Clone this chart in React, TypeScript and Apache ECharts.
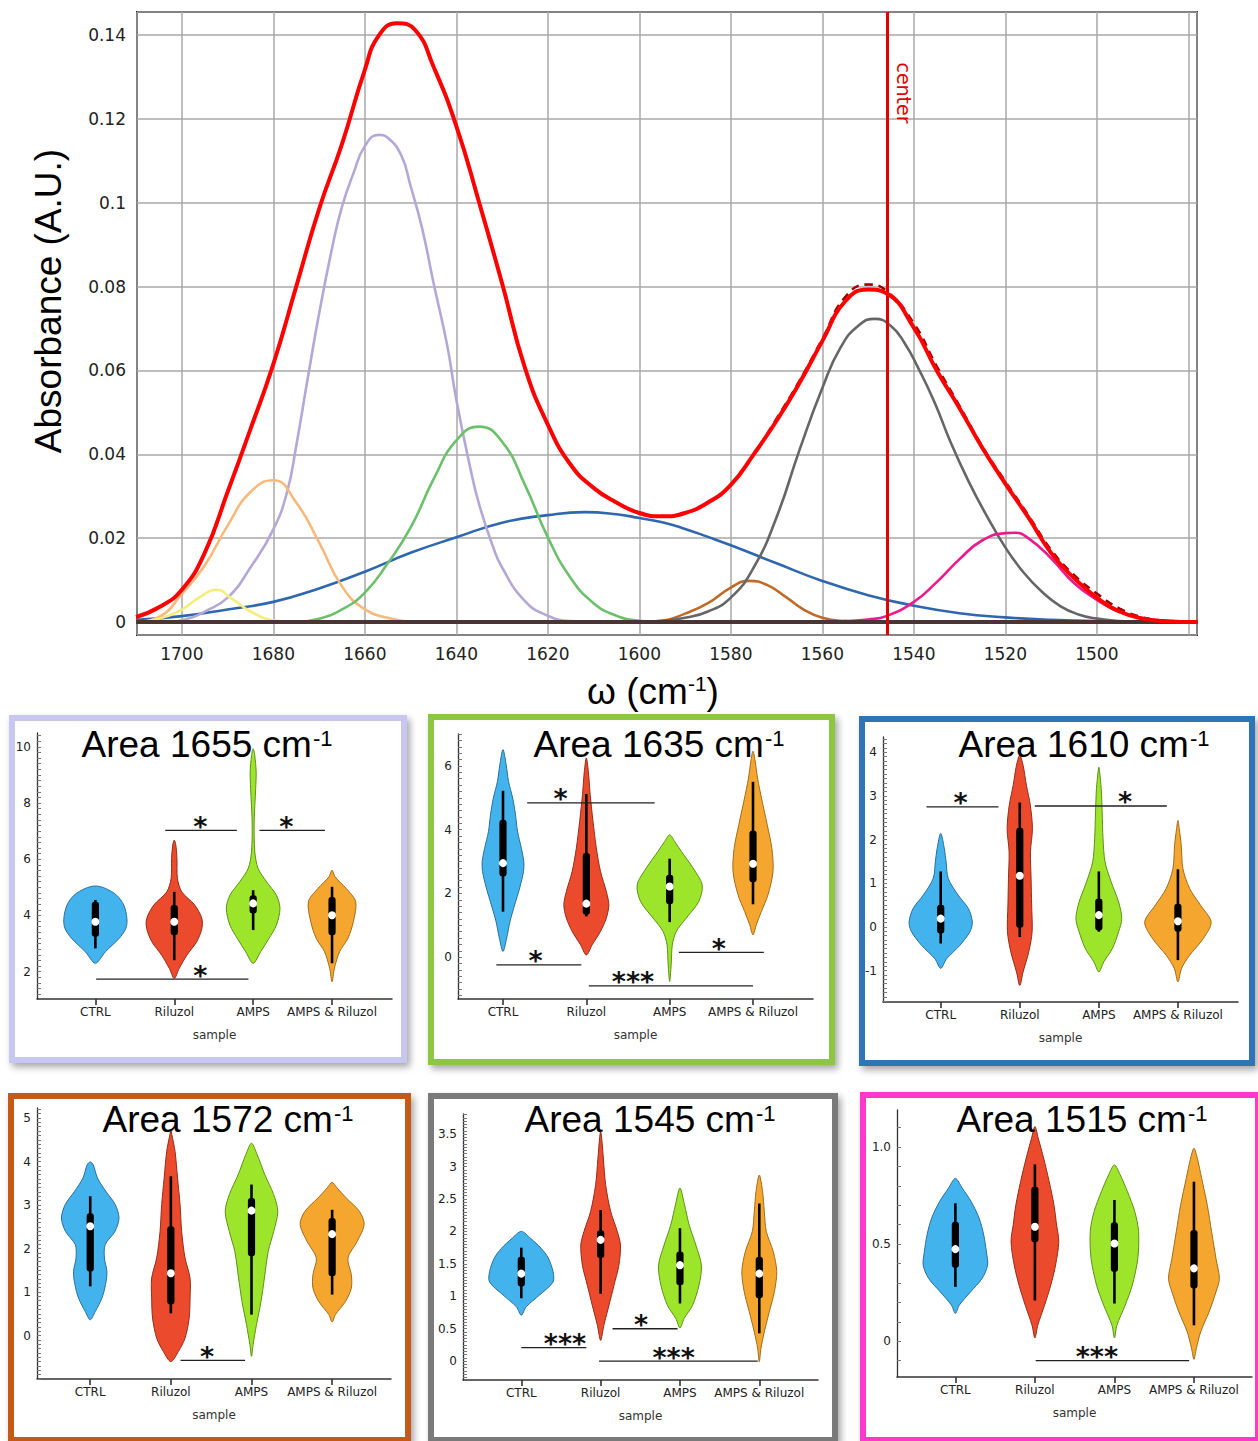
import React, { useEffect, useRef } from "react";
import * as echarts from "echarts";

// ---------------- Spectrum: [wavenumber (cm-1), absorbance] ----------------
const fitTotal = [
  [1710, 0.0012], [1705, 0.0035], [1700, 0.0077], [1695, 0.0165], [1690, 0.031], [1685, 0.046],
  [1680, 0.0615], [1675, 0.080], [1670, 0.0985], [1665, 0.114], [1660, 0.1317], [1657, 0.1398],
  [1653, 0.1428], [1649, 0.1412], [1645, 0.1325], [1640, 0.1183], [1635, 0.100], [1630, 0.0808],
  [1625, 0.0606], [1620, 0.0471], [1615, 0.0375], [1610, 0.032], [1605, 0.0285], [1600, 0.026],
  [1595, 0.0252], [1590, 0.026], [1585, 0.0285], [1580, 0.0327], [1575, 0.040], [1570, 0.048],
  [1565, 0.057], [1560, 0.067], [1555, 0.0765], [1550, 0.0793], [1546, 0.0784], [1540, 0.0702],
  [1535, 0.060], [1530, 0.051], [1525, 0.0415], [1520, 0.033], [1515, 0.025], [1510, 0.0165],
  [1505, 0.0105], [1500, 0.0058], [1495, 0.0025], [1490, 0.0008], [1485, 0.0002], [1478, 0],
];
const measured = [
  [1710, 0.0012], [1705, 0.0035], [1700, 0.0077], [1695, 0.0165], [1690, 0.031], [1685, 0.046],
  [1680, 0.0615], [1675, 0.080], [1670, 0.0985], [1665, 0.114], [1660, 0.1317], [1657, 0.1398],
  [1653, 0.1428], [1649, 0.1412], [1645, 0.1325], [1640, 0.1183], [1635, 0.100], [1630, 0.0808],
  [1625, 0.0606], [1620, 0.0471], [1615, 0.0375], [1610, 0.032], [1605, 0.0285], [1600, 0.026],
  [1595, 0.0252], [1590, 0.026], [1585, 0.0285], [1580, 0.0327], [1575, 0.040], [1570, 0.0485],
  [1565, 0.0575], [1560, 0.0675], [1555, 0.0775], [1550, 0.0805], [1546, 0.079], [1540, 0.0712],
  [1535, 0.061], [1530, 0.0515], [1525, 0.0418], [1520, 0.0335], [1515, 0.0255], [1510, 0.0172],
  [1505, 0.0112], [1500, 0.0068], [1495, 0.0032], [1490, 0.0011], [1485, 0.0003], [1478, 0],
];
const band1692 = [
  [1710, 0], [1705, 0.0008], [1700, 0.003], [1696, 0.006], [1692.5, 0.0077], [1689, 0.0055],
  [1685, 0.0025], [1680, 0.0004], [1676, 0],
];
const band1680 = [
  [1710, 0], [1705, 0.0012], [1700, 0.0067], [1695, 0.0135], [1690, 0.023], [1685, 0.031],
  [1680, 0.0338], [1675, 0.0285], [1670, 0.019], [1665, 0.0085], [1660, 0.003], [1655, 0.001], [1650, 0],
];
const band1655 = [
  [1702, 0], [1698, 0.001], [1695, 0.0025], [1690, 0.0058], [1685, 0.013], [1680, 0.0221], [1677, 0.031],
  [1675, 0.042], [1672.5, 0.058], [1670, 0.0735], [1667, 0.090], [1665, 0.099], [1662.5, 0.107],
  [1660, 0.1135], [1657, 0.1162], [1655, 0.1155], [1652, 0.1112], [1650, 0.104], [1647.5, 0.094],
  [1645, 0.081], [1642, 0.066], [1640, 0.053], [1637, 0.037], [1635, 0.028], [1632, 0.018],
  [1630, 0.013], [1625, 0.005], [1620, 0.0015], [1615, 0.0002], [1610, 0],
];
const band1635 = [
  [1675, 0], [1670, 0.0008], [1665, 0.003], [1660, 0.007], [1655, 0.014], [1650, 0.0225],
  [1645, 0.034], [1640, 0.0433], [1635, 0.0466], [1630, 0.043], [1625, 0.0327], [1620, 0.0202],
  [1615, 0.0105], [1610, 0.0045], [1605, 0.0015], [1600, 0.0003], [1595, 0],
];
const band1610 = [
  [1710, 0.0005], [1700, 0.0014], [1690, 0.003], [1680, 0.0048], [1670, 0.008], [1660, 0.012],
  [1650, 0.0165], [1640, 0.0202], [1630, 0.0237], [1620, 0.0255], [1612, 0.0262], [1605, 0.0257],
  [1600, 0.0248], [1595, 0.0238], [1590, 0.0222], [1585, 0.0203], [1580, 0.0183], [1570, 0.014],
  [1560, 0.0098], [1550, 0.0064], [1540, 0.0039], [1530, 0.0021], [1520, 0.0011],
  [1510, 0.0005], [1500, 0.0002], [1478, 0],
];
const band1575 = [
  [1600, 0], [1595, 0.0003], [1590, 0.002], [1585, 0.0045], [1580, 0.0082], [1576, 0.0098],
  [1572, 0.0088], [1568, 0.006], [1564, 0.0029], [1560, 0.001], [1555, 0.0002], [1550, 0],
];
const band1548 = [
  [1600, 0], [1595, 0.0003], [1590, 0.001], [1585, 0.0025], [1580, 0.0058], [1575, 0.013],
  [1570, 0.025], [1565, 0.041], [1560, 0.0558], [1556, 0.0655], [1552, 0.0708], [1548.5, 0.0723],
  [1545, 0.0706], [1542, 0.0665], [1539, 0.0605], [1535.5, 0.0525], [1532, 0.043], [1528, 0.0335],
  [1524, 0.0252], [1520, 0.0178], [1516, 0.0118], [1512, 0.0072], [1508, 0.0038], [1504, 0.0018], [1500, 0.0008],
  [1495, 0.0002], [1490, 0],
];
const band1518 = [
  [1560, 0], [1555, 0.0002], [1550, 0.0006], [1546, 0.0014], [1540, 0.0048], [1535, 0.0095],
  [1530, 0.015], [1525, 0.0195], [1520, 0.0212], [1518, 0.0213], [1515, 0.020], [1510, 0.0152],
  [1505, 0.0093], [1500, 0.0053], [1495, 0.0024], [1490, 0.001], [1485, 0.0003], [1478, 0],
];
const baseline = [[1710, 0], [1478, 0]];
const centerLine = 1545.8;
const spectrumXTicks = [1700, 1680, 1660, 1640, 1620, 1600, 1580, 1560, 1540, 1520, 1500];

// ---------------- Violin panels ----------------
const groups = ["CTRL", "Riluzol", "AMPS", "AMPS & Riluzol"];
// profiles: [value, half width in group units]; boxes: [whiskerLow, q1, median, q3, whiskerHigh]
// sig: [x1, x2, y, starX, label]
const v1655 = [
  [[2.30, 0], [2.71, 0.127], [3.18, 0.30], [3.54, 0.386], [3.89, 0.40], [4.37, 0.36], [4.72, 0.27], [4.96, 0.13], [5.05, 0]],
  [[1.76, 0], [2.12, 0.063], [2.59, 0.16], [3.07, 0.285], [3.54, 0.35], [3.89, 0.35], [4.37, 0.26], [4.84, 0.095], [5.32, 0.04], [6.03, 0.034], [6.5, 0.02], [6.68, 0]],
  [[2.30, 0], [2.71, 0.095], [3.18, 0.2], [3.66, 0.295], [4.25, 0.34], [4.72, 0.295], [5.2, 0.17], [5.67, 0.063], [6.26, 0.021], [7.33, 0.013], [8.51, 0.032], [9.1, 0.038], [9.7, 0.02], [9.93, 0]],
  [[1.64, 0], [2.12, 0.03], [2.71, 0.095], [3.18, 0.2], [3.78, 0.27], [4.49, 0.3], [4.96, 0.18], [5.37, 0.04], [5.61, 0]],
];
const box1655 = [[2.83, 3.24, 3.78, 4.49, 4.55], [2.41, 3.30, 3.78, 4.37, 4.84], [3.48, 4.07, 4.43, 4.72, 4.90], [2.30, 3.30, 4.01, 4.66, 5.02]];
const sig1655 = [[0.886, 1.793, 7.03, 1.33, "*"], [2.08, 2.91, 7.03, 2.42, "*"], [0.01, 1.94, 1.74, 1.33, "*"]];

const v1635 = [
  [[0.18, 0], [0.6, 0.044], [1.12, 0.084], [1.64, 0.14], [2.17, 0.2], [2.69, 0.246], [3.0, 0.25], [3.42, 0.22], [3.95, 0.174], [4.47, 0.15], [4.99, 0.116], [5.52, 0.066], [6.04, 0.038], [6.51, 0]],
  [[0.07, 0], [0.39, 0.07], [0.81, 0.17], [1.23, 0.24], [1.64, 0.27], [2.06, 0.24], [2.69, 0.17], [3.42, 0.12], [4.26, 0.08], [5.1, 0.046], [5.83, 0.024], [6.25, 0]],
  [[-0.76, 0], [-0.24, 0.018], [0.39, 0.032], [0.81, 0.08], [1.23, 0.2], [1.75, 0.35], [2.27, 0.39], [2.8, 0.28], [3.32, 0.14], [3.63, 0.06], [3.84, 0]],
  [[0.70, 0], [1.02, 0.04], [1.43, 0.1], [1.96, 0.18], [2.69, 0.24], [3.42, 0.226], [4.16, 0.17], [4.89, 0.11], [5.62, 0.054], [6.15, 0.026], [6.46, 0]],
];
const box1635 = [[1.43, 2.53, 2.95, 4.31, 5.22], [1.28, 1.33, 1.68, 3.27, 5.12], [1.1, 1.66, 2.22, 2.59, 3.09], [1.66, 2.35, 2.93, 3.97, 5.5]];
const sig1635 = [[0.29, 1.82, 4.84, 0.69, "*"], [-0.08, 0.94, -0.24, 0.39, "*"], [1.03, 3.0, -0.90, 1.56, "***"], [2.11, 3.13, 0.15, 2.59, "*"]];

const v1610 = [
  [[-0.95, 0], [-0.73, 0.074], [-0.42, 0.243], [-0.11, 0.37], [0.11, 0.40], [0.42, 0.35], [0.73, 0.22], [1.11, 0.095], [1.49, 0.068], [1.79, 0.046], [2.14, 0]],
  [[-1.34, 0], [-1.03, 0.042], [-0.57, 0.114], [-0.11, 0.156], [0.5, 0.15], [1.11, 0.143], [1.72, 0.135], [2.25, 0.16], [2.79, 0.133], [3.24, 0.084], [3.7, 0.042], [3.93, 0]],
  [[-1.03, 0], [-0.8, 0.063], [-0.5, 0.17], [-0.11, 0.25], [0.19, 0.29], [0.57, 0.25], [1.03, 0.156], [1.49, 0.078], [2.02, 0.053], [2.63, 0.042], [3.17, 0.03], [3.55, 0.01], [3.66, 0]],
  [[-1.26, 0], [-0.95, 0.046], [-0.65, 0.148], [-0.27, 0.32], [0.11, 0.42], [0.5, 0.285], [0.88, 0.148], [1.34, 0.063], [1.87, 0.042], [2.25, 0.017], [2.44, 0]],
];
const box1610 = [[-0.38, -0.15, 0.19, 0.51, 1.27], [-0.23, -0.02, 1.17, 2.27, 2.85], [-0.11, -0.08, 0.27, 0.65, 1.27], [-0.76, -0.11, 0.13, 0.53, 1.32]];
const sig1610 = [[-0.18, 0.73, 2.75, 0.25, "*"], [1.19, 2.86, 2.77, 2.33, "*"]];

const v1572 = [
  [[0.36, 0], [0.55, 0.062], [0.86, 0.145], [1.17, 0.19], [1.47, 0.207], [1.78, 0.176], [2.09, 0.186], [2.39, 0.306], [2.7, 0.357], [3.01, 0.31], [3.31, 0.196], [3.62, 0.09], [3.93, 0.037], [3.99, 0]],
  [[-0.6, 0], [-0.37, 0.093], [-0.06, 0.176], [0.4, 0.227], [0.86, 0.238], [1.32, 0.238], [1.78, 0.176], [2.39, 0.134], [3.01, 0.114], [3.62, 0.083], [4.23, 0.052], [4.62, 0.012], [4.73, 0]],
  [[-0.48, 0], [-0.21, 0.02], [0.25, 0.062], [0.78, 0.118], [1.32, 0.16], [1.93, 0.207], [2.39, 0.275], [2.85, 0.326], [3.24, 0.275], [3.7, 0.165], [4.16, 0.07], [4.42, 0]],
  [[0.31, 0], [0.48, 0.041], [0.78, 0.165], [1.09, 0.238], [1.4, 0.238], [1.78, 0.196], [2.16, 0.31], [2.55, 0.397], [2.85, 0.34], [3.16, 0.176], [3.39, 0.062], [3.52, 0]],
];
const box1572 = [[1.13, 1.47, 2.51, 2.81, 3.2], [0.51, 0.71, 1.43, 2.51, 3.66], [0.48, 1.82, 2.87, 3.16, 3.47], [0.94, 1.36, 2.33, 2.7, 2.89]];
const sig1572 = [[1.12, 1.92, -0.57, 1.45, "*"]];

const v1545 = [
  [[0.71, 0], [0.84, 0.063], [1.02, 0.23], [1.22, 0.40], [1.38, 0.40], [1.59, 0.34], [1.74, 0.25], [1.89, 0.12], [2.0, 0]],
  [[0.32, 0], [0.56, 0.042], [0.86, 0.105], [1.17, 0.168], [1.48, 0.23], [1.79, 0.25], [2.0, 0.21], [2.31, 0.126], [2.72, 0.063], [3.13, 0.034], [3.44, 0.013], [3.54, 0]],
  [[0.51, 0], [0.66, 0.053], [0.86, 0.158], [1.17, 0.24], [1.48, 0.27], [1.79, 0.2], [2.1, 0.116], [2.41, 0.057], [2.67, 0]],
  [[-0.01, 0], [0.2, 0.021], [0.45, 0.063], [0.76, 0.126], [1.07, 0.19], [1.38, 0.22], [1.69, 0.176], [2.0, 0.088], [2.31, 0.063], [2.61, 0.042], [2.87, 0]],
];
const box1545 = [[0.97, 1.15, 1.35, 1.61, 1.75], [1.04, 1.59, 1.87, 2.02, 2.33], [0.89, 1.17, 1.48, 1.69, 2.05], [0.43, 0.97, 1.35, 1.61, 2.43]];
const sig1545 = [[0, 0.82, 0.21, 0.55, "***"], [1.15, 1.97, 0.5, 1.51, "*"], [0.98, 2.98, 0, 1.92, "***"]];

const v1515 = [
  [[0.143, 0], [0.186, 0.05], [0.254, 0.19], [0.323, 0.336], [0.392, 0.405], [0.46, 0.39], [0.546, 0.357], [0.632, 0.3], [0.718, 0.2], [0.787, 0.088], [0.838, 0]],
  [[0.017, 0], [0.082, 0.036], [0.186, 0.122], [0.289, 0.2], [0.392, 0.26], [0.512, 0.3], [0.598, 0.273], [0.7, 0.24], [0.821, 0.18], [0.942, 0.11], [1.045, 0.042], [1.105, 0]],
  [[0.017, 0], [0.082, 0.031], [0.186, 0.136], [0.289, 0.225], [0.426, 0.294], [0.564, 0.304], [0.667, 0.256], [0.77, 0.164], [0.856, 0.073], [0.907, 0]],
  [[-0.093, 0], [-0.038, 0.03], [0.048, 0.084], [0.151, 0.19], [0.254, 0.277], [0.323, 0.32], [0.426, 0.277], [0.564, 0.222], [0.7, 0.168], [0.838, 0.097], [0.942, 0.042], [0.993, 0]],
];
const box1515 = [[0.28, 0.378, 0.474, 0.615, 0.71], [0.21, 0.509, 0.589, 0.795, 0.91], [0.194, 0.357, 0.503, 0.612, 0.727], [0.082, 0.271, 0.375, 0.572, 0.821]];
const sig1515 = [[1.01, 2.94, -0.1, 1.78, "***"]];

const yLabels1655 = [2, 4, 6, 8, 10];
const yLabels1635 = [0, 2, 4, 6];
const yLabels1610 = [-1, 0, 1, 2, 3, 4];
const yLabels1572 = [0, 1, 2, 3, 4, 5];
const yLabels1545 = [0, 0.5, 1, 1.5, 2, 2.5, 3, 3.5];
const yLabels1515 = [0, 0.5, 1];

const violinFill = ["#43b3ee", "#ec4a2d", "#9de52b", "#f4a62f"];
const violinEdge = ["#2b6f98", "#942c18", "#5e9116", "#a26c1a"];

// layout (pixels) for each panel
const panels = [
  { name: "1655", frame: [9, 715, 407, 1063], color: "#c7c7f0", grid: [37, 733, 355, 266], x: [-0.74, 3.76], y: [1.03, 10.49], labels: yLabels1655, minor: 0.2, v: v1655, b: box1655, s: sig1655, title: [207, 743] },
  { name: "1635", frame: [428, 714, 835, 1065], color: "#8dc641", grid: [458, 734, 355, 265], x: [-0.54, 3.72], y: [-1.31, 7.0], labels: yLabels1635, minor: 0.2, v: v1635, b: box1635, s: sig1635, title: [659, 743] },
  { name: "1610", frame: [859, 716, 1255, 1066], color: "#2e74b5", grid: [883, 737, 355, 265], x: [-0.73, 3.76], y: [-1.72, 4.35], labels: yLabels1610, minor: 0.1, v: v1610, b: box1610, s: sig1610, title: [1084, 743] },
  { name: "1572", frame: [8, 1093, 411, 1443], color: "#c55a14", grid: [37, 1108, 354, 271], x: [-0.66, 3.73], y: [-1.0, 5.23], labels: yLabels1572, minor: 0.1, v: v1572, b: box1572, s: sig1572, title: [228, 1118] },
  { name: "1545", frame: [428, 1093, 838, 1443], color: "#7a7a7a", grid: [463, 1114, 355, 266], x: [-0.735, 3.74], y: [-0.29, 3.81], labels: yLabels1545, minor: 0.05, v: v1545, b: box1545, s: sig1545, title: [650, 1118] },
  { name: "1515", frame: [860, 1092, 1261, 1443], color: "#ff38cc", grid: [897, 1110, 355, 267], x: [-0.734, 3.73], y: [-0.184, 1.19], labels: yLabels1515, minor: 0.1, v: v1515, b: box1515, s: sig1515, title: [1082, 1118] },
];

function minorTicks(min: number, max: number, step: number) {
  const out: number[] = [];
  const start = Math.ceil(min / step - 1e-9);
  for (let k = start; k * step <= max + 1e-9; k++) out.push(Math.round(k * step * 1000) / 1000);
  return out;
}

function violinRenderer(profiles: number[][][], boxes: number[][]) {
  return (params: any, api: any) => {
    const i = params.dataIndex;
    const prof = profiles[i];
    const right = prof.map(([v, hw]) => api.coord([i + hw, v]));
    const left = prof.slice(1, -1).reverse().map(([v, hw]) => api.coord([i - hw, v]));
    const pts = right.concat(left);
    const b = boxes[i];
    const wl = api.coord([i, b[0]]);
    const q1 = api.coord([i, b[1]]);
    const med = api.coord([i, b[2]]);
    const q3 = api.coord([i, b[3]]);
    const wh = api.coord([i, b[4]]);
    return {
      type: "group",
      children: [
        { type: "polygon", shape: { points: pts, smooth: 0.3 }, style: { fill: violinFill[i], stroke: violinEdge[i], lineWidth: 1 } },
        { type: "line", shape: { x1: wl[0], y1: wl[1], x2: wh[0], y2: wh[1] }, style: { stroke: "#000", lineWidth: 2.6 } },
        { type: "rect", shape: { x: q3[0] - 3.6, y: q3[1], width: 7.2, height: Math.max(1, q1[1] - q3[1]), r: 3 }, style: { fill: "#000" } },
        { type: "circle", shape: { cx: med[0], cy: med[1], r: 4 }, style: { fill: "#fff" } },
      ],
    };
  };
}

function sigRenderer(rows: any[][]) {
  return (params: any, api: any) => {
    const r = rows[params.dataIndex];
    const a = api.coord([r[0], r[2]]);
    const c = api.coord([r[1], r[2]]);
    const s = api.coord([r[3], r[2]]);
    return {
      type: "group",
      children: [
        { type: "line", shape: { x1: a[0], y1: a[1], x2: c[0], y2: c[1] }, style: { stroke: "#222", lineWidth: 1.3 } },
        { type: "text", x: s[0], y: s[1] - 4, style: { text: r[4], fill: "#111", font: "bold 27px 'DejaVu Sans'", align: "center", verticalAlign: "middle" } },
      ],
    };
  };
}

function buildOption() {
  const sans = "'DejaVu Sans', sans-serif";
  const arial = "'Liberation Sans', Arial, sans-serif";
  const grids: any[] = [{ left: 137, top: 12, width: 1060, height: 623, show: true, borderColor: "#1a1a1a", borderWidth: 2, backgroundColor: "#fff" }];
  const xAxes: any[] = [{
    gridIndex: 0, type: "value", inverse: true, min: 1478.1, max: 1709.8, splitNumber: 11,
    axisLine: { show: false }, axisTick: { show: false },
    axisLabel: { fontFamily: sans, fontSize: 17, color: "#222", margin: 10, formatter: (v: number) => (spectrumXTicks.indexOf(v) >= 0 ? String(v) : "") },
    splitLine: { show: true, lineStyle: { color: "#a8a8a8", width: 1.5 } },
  }];
  const yAxes: any[] = [{
    gridIndex: 0, type: "value", min: -0.0031, max: 0.1455, splitNumber: 7,
    axisLine: { show: false }, axisTick: { show: false },
    axisLabel: {
      fontFamily: sans, fontSize: 17, color: "#222", margin: 11,
      formatter: (v: number) => {
        const k = v / 0.02;
        if (Math.abs(k - Math.round(k)) > 1e-6) return "";
        return String(parseFloat(v.toFixed(2)));
      },
    },
    splitLine: { show: true, lineStyle: { color: "#a8a8a8", width: 1.5 } },
  }];

  const comp = (data: number[][], color: string, width: number, extra: any = {}) => ({
    type: "line", data, xAxisIndex: 0, yAxisIndex: 0, symbol: "none", smooth: 0.5,
    lineStyle: { color, width }, z: 3, silent: true, ...extra,
  });

  const series: any[] = [
    comp(band1610, "#2f66b0", 2.6),
    comp(band1655, "#b3a8d8", 2.6),
    comp(band1680, "#f8b97c", 2.6),
    comp(band1692, "#f6ee7a", 2.6),
    comp(band1635, "#6cc06c", 2.6),
    comp(band1575, "#c06a28", 2.6),
    comp(band1548, "#666666", 2.6),
    comp(band1518, "#ec1a8c", 2.6),
    comp(baseline, "#4a3434", 4, { smooth: false, z: 4 }),
    comp(measured, "#a00000", 2.6, { lineStyle: { color: "#9a0000", width: 2.6, type: [8, 6] }, z: 4 }),
    comp(fitTotal, "#ff0000", 4, {
      z: 5,
      markLine: { silent: true, symbol: ["none", "none"], label: { show: false }, lineStyle: { color: "#e00000", width: 3, type: "solid" }, data: [{ xAxis: centerLine }] },
    }),
  ];

  const graphic: any[] = [
    { type: "text", x: 48, y: 301, rotation: Math.PI / 2, z: 10, style: { text: "Absorbance (A.U.)", fill: "#000", font: `37px ${arial}`, align: "center", verticalAlign: "middle" } },
    {
      type: "text", x: 653, y: 690, z: 10,
      style: {
        text: "{n|ω (cm}{s|-1}{n|)}", align: "center", verticalAlign: "middle",
        rich: {
          n: { fontSize: 37, fontFamily: arial, fill: "#000", lineHeight: 40, verticalAlign: "bottom" },
          s: { fontSize: 21, fontFamily: arial, fill: "#000", lineHeight: 40, verticalAlign: "top", padding: [3, 0, 0, 0] },
        },
      },
    },
    { type: "text", x: 904, y: 93, rotation: -Math.PI / 2, z: 10, style: { text: "center", fill: "#e00000", font: "19px 'DejaVu Sans'", align: "center", verticalAlign: "middle" } },
  ];

  panels.forEach((p, k) => {
    const gi = k + 1;
    const [fx0, fy0, fx1, fy1] = p.frame;
    graphic.push({
      type: "rect", z: -10,
      shape: { x: fx0 + 3, y: fy0 + 3, width: fx1 - fx0 - 6, height: fy1 - fy0 - 6 },
      style: { fill: "#fff", stroke: p.color, lineWidth: 6, shadowBlur: 7, shadowOffsetX: 3, shadowOffsetY: 4, shadowColor: "rgba(0,0,0,0.35)" },
    });
    graphic.push({
      type: "text", x: p.title[0], y: p.title[1], z: 10,
      style: {
        text: `{n|Area ${p.name} cm}{s|-1}`, align: "center", verticalAlign: "middle",
        rich: {
          n: { fontSize: 37, fontFamily: arial, fill: "#000", lineHeight: 40, verticalAlign: "bottom" },
          s: { fontSize: 22, fontFamily: arial, fill: "#000", lineHeight: 40, verticalAlign: "top", padding: [4, 0, 0, 1] },
        },
      },
    });
    grids.push({ left: p.grid[0], top: p.grid[1], width: p.grid[2], height: p.grid[3], show: false });
    xAxes.push({
      gridIndex: gi, type: "value", min: p.x[0], max: p.x[1],
      name: "sample", nameLocation: "middle", nameGap: 30,
      nameTextStyle: { fontFamily: sans, fontSize: 12, color: "#333" },
      axisLine: { show: true, onZero: false, lineStyle: { color: "#333", width: 1.5 } },
      axisTick: { show: true, inside: false, length: 6, customValues: [0, 1, 2, 3], lineStyle: { color: "#333", width: 1.6 } },
      axisLabel: { show: true, customValues: [0, 1, 2, 3], margin: 7, fontFamily: sans, fontSize: 12, color: "#222", formatter: (v: number) => groups[Math.round(v)] },
      splitLine: { show: false },
    });
    yAxes.push({
      gridIndex: gi, type: "value", min: p.y[0], max: p.y[1],
      axisLine: { show: true, onZero: false, lineStyle: { color: "#333", width: 1.3 } },
      axisTick: { show: true, inside: true, length: 4, customValues: minorTicks(p.y[0], p.y[1], p.minor), lineStyle: { color: "#777", width: 1 } },
      axisLabel: { show: true, customValues: p.labels, margin: 6, fontFamily: sans, fontSize: 12, color: "#222", formatter: (v: number) => (p.name === "1515" && v === 1 ? "1.0" : String(v)) },
      splitLine: { show: false },
    });
    series.push({
      type: "custom", xAxisIndex: gi, yAxisIndex: gi, silent: true, z: 3,
      data: p.b.map((b, i) => [i, b[2]]),
      renderItem: violinRenderer(p.v, p.b),
    });
    series.push({
      type: "custom", xAxisIndex: gi, yAxisIndex: gi, silent: true, z: 4,
      data: p.s.map((r) => [r[0], r[2]]),
      renderItem: sigRenderer(p.s),
    });
  });

  return { animation: false, backgroundColor: "#fff", grid: grids, xAxis: xAxes, yAxis: yAxes, series, graphic };
}

export default function App() {
  const ref = useRef<HTMLDivElement>(null);
  useEffect(() => {
    if (!ref.current) return;
    const chart = echarts.init(ref.current, null, { renderer: "svg" });
    chart.setOption(buildOption() as any);
    return () => chart.dispose();
  }, []);
  return <div ref={ref} style={{ position: "absolute", left: 0, top: 0, width: 1258, height: 1441, background: "#fff" }} />;
}
